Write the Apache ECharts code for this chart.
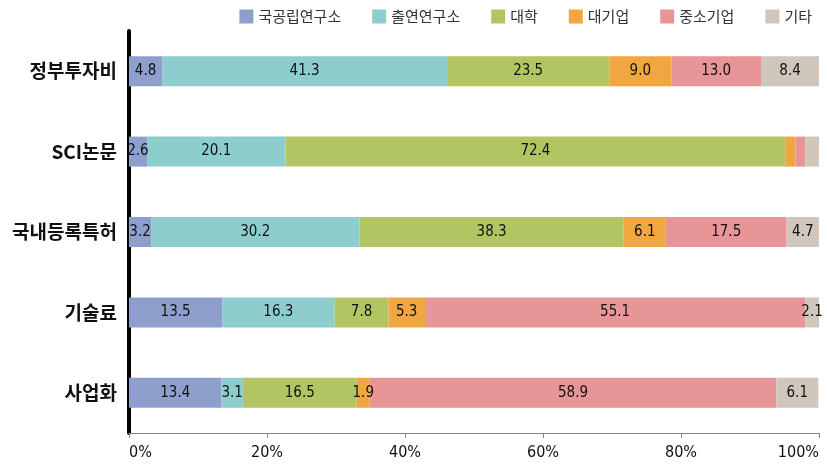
<!DOCTYPE html>
<html><head><meta charset="utf-8">
<script src="https://cdn.jsdelivr.net/npm/echarts@6/dist/echarts.min.js"></script>
<style>html,body{margin:0;padding:0;background:#fff}#c{width:827px;height:468px}</style>
</head><body><div id="c"></div>
<script>
var categories = ['정부투자비','SCI논문','국내등록특허','기술료','사업화'];
var seriesNames = ['국공립연구소','출연연구소','대학','대기업','중소기업','기타'];
var s_gov   = [4.8, 2.6, 3.2, 13.5, 13.4];
var s_inst  = [41.3, 20.1, 30.2, 16.3, 3.1];
var s_univ  = [23.5, 72.4, 38.3, 7.8, 16.5];
var s_large = [9.0, 1.5, 6.1, 5.3, 1.9];
var s_sme   = [13.0, 1.4, 17.5, 55.1, 58.9];
var s_etc   = [8.4, 2.0, 4.7, 2.1, 6.1];
var xTicks = ['0%','20%','40%','60%','80%','100%'];
// [seriesIndex, categoryIndex] pairs whose value label is not printed
var hiddenLabels = [[3,1],[4,1],[5,1]];
var colors = ['#8f9fcd','#8ecdcd','#b1c663','#f0a741','#e89597','#d0c6bb'];
var allData = [s_gov, s_inst, s_univ, s_large, s_sme, s_etc];
var numFont = '"Liberation Sans Narrow","DejaVu Sans Condensed",sans-serif';
function isHidden(si, ci){
  return hiddenLabels.some(function(h){return h[0]===si && h[1]===ci;});
}
var chart = echarts.init(document.getElementById('c'));
chart.setOption({
  animation:false,
  legend:{top:4,right:10,itemWidth:14,itemHeight:14,itemGap:31,
    textStyle:{fontFamily:'"Noto Sans CJK KR",sans-serif',fontSize:15,color:'#333'},
    data:seriesNames.map(function(n){return {name:n,icon:'rect'};})},
  grid:{left:129,right:8,top:31,bottom:35,containLabel:false,outerBoundsMode:'none'},
  xAxis:{type:'value',min:0,max:100,interval:20,
    axisLine:{show:true,lineStyle:{color:'#888',width:1}},
    axisTick:{show:true,length:5,lineStyle:{color:'#888'}},
    splitLine:{show:false},
    axisLabel:{fontFamily:numFont,fontSize:16,color:'#111',margin:12,
      alignMinLabel:'left',alignMaxLabel:'right',
      formatter:function(v){return xTicks[Math.round(v/20)];}}},
  yAxis:{type:'category',inverse:true,data:categories,
    axisLine:{show:true,lineStyle:{color:'#000',width:4}},
    axisTick:{show:false},
    axisLabel:{fontFamily:'"Noto Sans CJK KR",sans-serif',fontWeight:'bold',fontSize:19,color:'#111',margin:12}},
  series:allData.map(function(d,i){
    return {name:seriesNames[i],type:'bar',stack:'t',barWidth:30,
      data:d.map(function(v,ci){
        return isHidden(i,ci)?{value:v,label:{show:false}}:v;
      }),
      itemStyle:{color:colors[i]},
      label:{show:true,position:'inside',fontFamily:numFont,fontSize:15,color:'#111',
        formatter:function(p){return p.value.toFixed(1);}}};
  })
});
</script></body></html>
